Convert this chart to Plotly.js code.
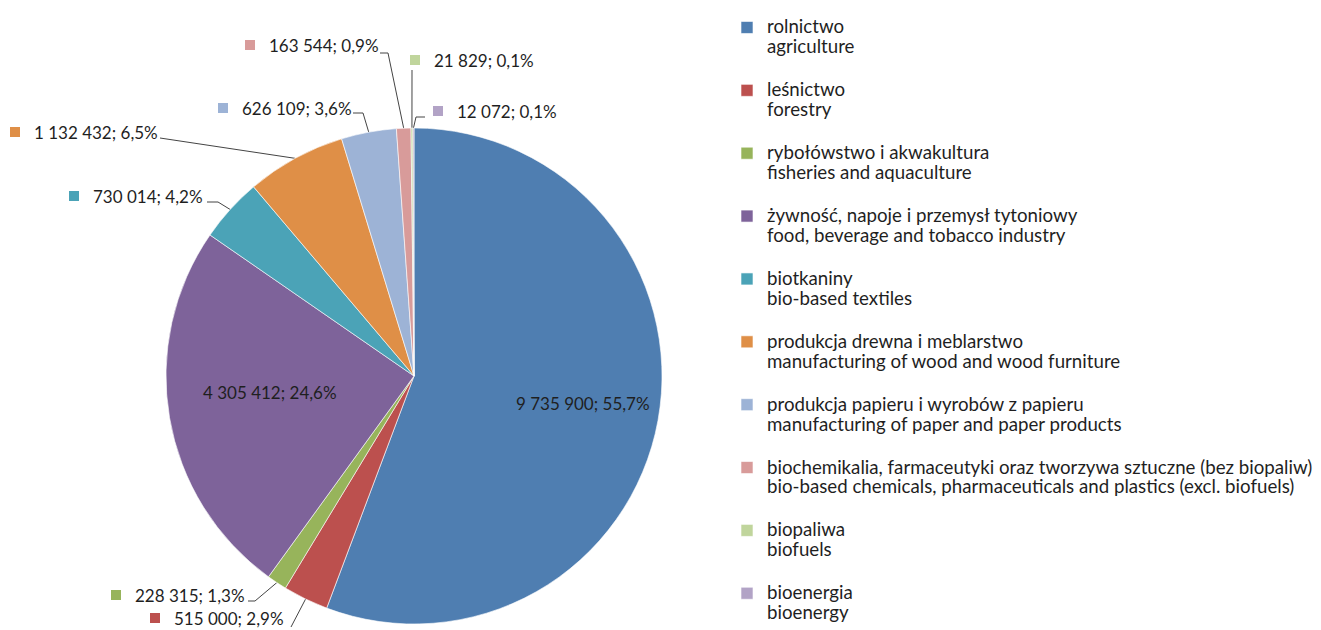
<!DOCTYPE html>
<html>
<head>
<meta charset="utf-8">
<script src="https://cdn.plot.ly/plotly-3.0.1.min.js"></script>
<style>html,body{margin:0;padding:0;background:#fff}#chart{width:1321px;height:630px}</style>
</head>
<body>
<div id="chart"></div>
<script>
// ---- data ----
const labelsPL = ["rolnictwo","leśnictwo","rybołówstwo i akwakultura","żywność, napoje i przemysł tytoniowy","biotkaniny","produkcja drewna i meblarstwo","produkcja papieru i wyrobów z papieru","biochemikalia, farmaceutyki oraz tworzywa sztuczne (bez biopaliw)","biopaliwa","bioenergia"];
const labelsEN = ["agriculture","forestry","fisheries and aquaculture","food, beverage and tobacco industry","bio-based textiles","manufacturing of wood and wood furniture","manufacturing of paper and paper products","bio-based chemicals, pharmaceuticals and plastics (excl. biofuels)","biofuels","bioenergy"];
const values = [9735900, 515000, 228315, 4305412, 730014, 1132432, 626109, 163544, 21829, 12072];
const colors = ["#4F7EB1","#BC504E","#97B45B","#7E639A","#4BA3B7","#DF8F47","#9DB3D6","#D89B9A","#C0D59C","#B2A3C6"];

// ---- layout settings (pixels) ----
const W = 1321, H = 630;
const CX = 414, CY = 376, R = 248;
// label placement: inside => radial factor + angle tweak (deg); outside => text left/center y, leader start, optional elbow
const place = [
  {inside: 0.69, dA: -1.2},
  {tx: 172, ty: 618, sx: 291, sy: 627},
  {tx: 133, ty: 595, sx: 248, sy: 601, ex: 255, ey: 601},
  {inside: 0.585, dA: 3},
  {tx: 91,  ty: 196, sx: 207, sy: 202, ex: 218, ey: 202},
  {tx: 32,  ty: 132, sx: 160, sy: 138},
  {tx: 240, ty: 108, sx: 353, sy: 113, ex: 363, ey: 113},
  {tx: 267, ty: 45,  sx: 380, sy: 53,  ex: 388, ey: 53},
  {tx: 432, ty: 60,  sx: 412, sy: 70},
  {tx: 455, ty: 111, sx: 425, sy: 117, ex: 416, ey: 117}
];

const total = values.reduce((a,b)=>a+b,0);
function fmtNum(v){ return String(v).replace(/\B(?=(\d{3})+(?!\d))/g, "\u00a0"); }
function fmtPct(v){ return (v/total*100).toFixed(1).replace(".", ",") + "%"; }

const fontFam = "Lato, 'Open Sans', sans-serif";
const textColor = "#1f1f1f";
const legendSpan = (s)=>"<span style='font-size:18.7px'>" + s + "</span>";

// pie trace
const pie = {
  type: "pie",
  values: values,
  labels: labelsPL.map((p,i)=>legendSpan(p) + "<br>" + legendSpan(labelsEN[i]) + (i < labelsPL.length-1 ? "<br> " : "")),
  marker: {colors: colors, line: {color: "#ffffff", width: 0.6}},
  sort: false,
  direction: "clockwise",
  rotation: 0,
  textinfo: "none",
  hoverinfo: "label+value+percent",
  domain: {x: [(CX-R)/W, (CX+R)/W], y: [1-(CY+R)/H, 1-(CY-R)/H]},
  showlegend: true
};

// leader lines + label markers, computed from slice angles
const lx = [], ly = [], mx = [], my = [], mc = [];
const annotations = [];
let cum = 0;
values.forEach((v,i)=>{
  const mid = (cum + v/2)/total * 2*Math.PI;
  cum += v;
  const p = place[i];
  const txt = fmtNum(v) + "; " + fmtPct(v);
  if (p.inside !== undefined) {
    const a = mid + (p.dA||0)*Math.PI/180;
    annotations.push({x: CX + p.inside*R*Math.sin(a), y: CY - p.inside*R*Math.cos(a), xref:"x", yref:"y", text: txt, showarrow:false,
      xanchor:"center", yanchor:"middle", font:{family:fontFam, size:17, color:textColor}});
  } else {
    const edx = CX + R*Math.sin(mid), edy = CY - R*Math.cos(mid);
    lx.push(p.sx); ly.push(p.sy);
    if (p.ex !== undefined){ lx.push(p.ex); ly.push(p.ey); }
    lx.push(edx); ly.push(edy);
    lx.push(null); ly.push(null);
    mx.push(p.tx - 17); my.push(p.ty); mc.push(colors[i]);
    annotations.push({x: p.tx, y: p.ty, xref:"x", yref:"y", text: txt, showarrow:false,
      xanchor:"left", yanchor:"middle", font:{family:fontFam, size:17, color:textColor}});
  }
});

const leaders = {type:"scatter", mode:"lines", x: lx, y: ly, line:{color:"#444444", width:1}, hoverinfo:"skip", showlegend:false, cliponaxis:false};
const markers = {type:"scatter", mode:"markers", x: mx, y: my, marker:{symbol:"square", size:10, color: mc}, hoverinfo:"skip", showlegend:false, cliponaxis:false};

const layout = {
  width: W, height: H,
  margin: {l:0, r:0, t:0, b:0},
  paper_bgcolor: "#ffffff", plot_bgcolor: "rgba(0,0,0,0)",
  showlegend: true,
  xaxis: {range:[0, W], visible:false, fixedrange:true},
  yaxis: {range:[H, 0], visible:false, fixedrange:true},
  legend: {x: 727/W, y: 1 - 14/H, xanchor:"left", yanchor:"top", valign:"top",
    font:{family:fontFam, size:15.35, color:textColor}, bgcolor:"rgba(0,0,0,0)", itemwidth:30},
  annotations: annotations
};

Plotly.newPlot("chart", [pie, leaders, markers], layout, {displayModeBar:false, staticPlot:true});
</script>
</body>
</html>
